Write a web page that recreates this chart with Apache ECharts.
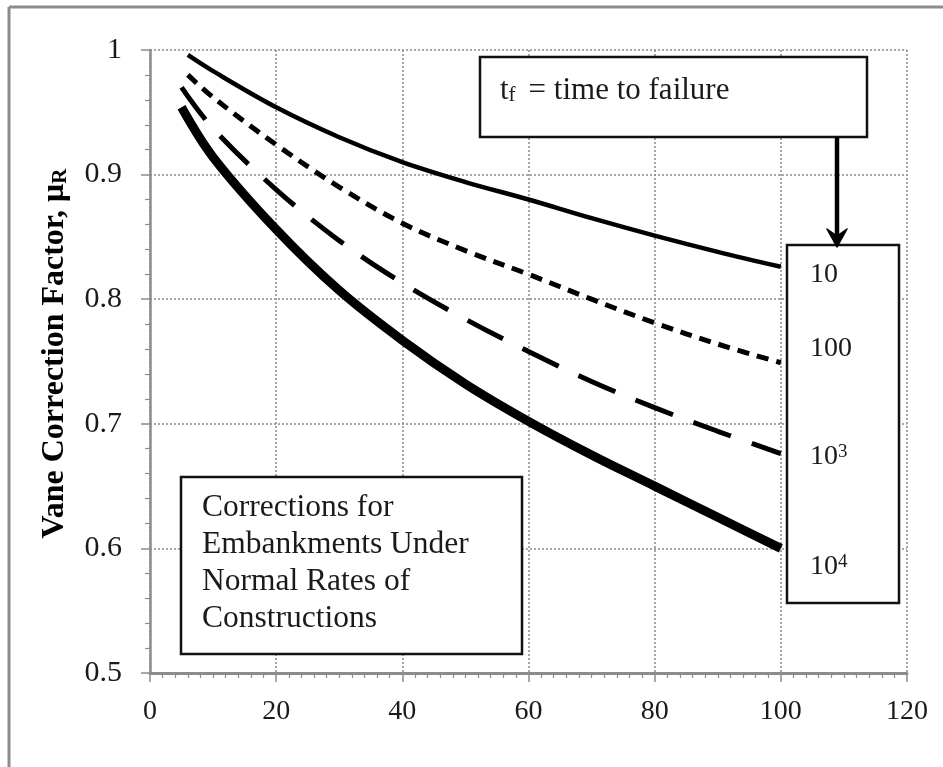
<!DOCTYPE html>
<html>
<head>
<meta charset="utf-8">
<script src="https://cdn.jsdelivr.net/npm/echarts@6/dist/echarts.min.js"></script>
<style>
  html, body { margin: 0; padding: 0; background: #fff; }
  #chart { width: 943px; height: 767px; }
</style>
</head>
<body>
<div id="chart"></div>
<script>
// Vane correction factor vs. plasticity index, one curve per time to failure t_f
const tfLabels = ['10', '100', '3', '4'];          // 10, 100, 10^3, 10^4 (exponents for the last two)
const xTf10   = [6, 10, 20, 30, 40, 50, 60, 70, 80, 90, 100];
const yTf10   = [0.996, 0.983, 0.954, 0.930, 0.910, 0.894, 0.880, 0.865, 0.851, 0.838, 0.826];
const xTf100  = [6, 10, 20, 30, 40, 50, 60, 70, 80, 90, 100];
const yTf100  = [0.980, 0.962, 0.924, 0.890, 0.861, 0.839, 0.820, 0.800, 0.781, 0.764, 0.749];
const xTf1e3  = [5, 10, 20, 30, 40, 50, 60, 70, 80, 90, 100];
const yTf1e3  = [0.970, 0.937, 0.888, 0.847, 0.813, 0.784, 0.758, 0.734, 0.713, 0.694, 0.676];
const xTf1e4  = [5, 10, 20, 30, 40, 50, 60, 70, 80, 90, 100];
const yTf1e4  = [0.954, 0.914, 0.856, 0.807, 0.767, 0.732, 0.702, 0.675, 0.650, 0.625, 0.600];
const xTicks  = [0, 20, 40, 60, 80, 100, 120];
const yTicks  = [0.5, 0.6, 0.7, 0.8, 0.9, 1];

const SERIF = "'Liberation Serif', 'Times New Roman', serif";
const zip = (xs, ys) => xs.map((x, i) => [x, ys[i]]);

const chart = echarts.init(document.getElementById('chart'), null, { renderer: 'canvas' });

function curve(name, xs, ys, width, dash) {
  return {
    name, type: 'line', data: zip(xs, ys),
    smooth: 0.35, showSymbol: false, symbol: 'none', z: 5,
    lineStyle: { color: '#000', width, type: dash || 'solid', cap: 'butt' }
  };
}

const gridLine = { show: true, lineStyle: { color: '#8a8a8a', type: [2, 2], width: 1.5 } };

chart.setOption({
  backgroundColor: '#fff',
  animation: false,
  grid: { left: 150, right: 36, top: 50, bottom: 94 },
  xAxis: {
    type: 'value', min: xTicks[0], max: xTicks[xTicks.length - 1], interval: 20,
    axisLine: { lineStyle: { color: '#8c8c8c', width: 3 } },
    axisTick: { show: true, length: 9, lineStyle: { color: '#8c8c8c', width: 1.5 } },
    minorTick: { show: true, splitNumber: 10, length: 5, lineStyle: { color: '#8c8c8c', width: 1.2 } },
    splitLine: gridLine,
    axisLabel: { fontFamily: SERIF, fontSize: 28, color: '#1a1a1a', margin: 25 }
  },
  yAxis: {
    type: 'value', min: yTicks[0], max: yTicks[yTicks.length - 1], interval: 0.1,
    name: '{a|Vane Correction Factor, μ}{s|R}',
    nameLocation: 'middle', nameRotate: 90, nameGap: 79,
    nameTextStyle: {
      padding: [0, 0, 0, 16],
      rich: {
        a: { fontFamily: SERIF, fontWeight: 'bold', fontSize: 32, color: '#000', lineHeight: 38, verticalAlign: 'bottom' },
        s: { fontFamily: SERIF, fontWeight: 'bold', fontSize: 21, color: '#000', lineHeight: 24, verticalAlign: 'bottom' }
      }
    },
    axisLine: { show: true, lineStyle: { color: '#8c8c8c', width: 2.5 } },
    axisTick: { show: true, length: 9, lineStyle: { color: '#8c8c8c', width: 1.5 } },
    minorTick: { show: true, splitNumber: 5, length: 5, lineStyle: { color: '#8c8c8c', width: 1.2 } },
    splitLine: gridLine,
    axisLabel: {
      fontFamily: SERIF, fontSize: 30, color: '#1a1a1a', margin: 28,
      formatter: v => String(parseFloat(v.toFixed(1)))
    }
  },
  series: [
    curve('t_f = 10',   xTf10,  yTf10,  4.5),
    curve('t_f = 100',  xTf100, yTf100, 5, [12, 8]),
    curve('t_f = 10^3', xTf1e3, yTf1e3, 5, [40, 22]),
    curve('t_f = 10^4', xTf1e4, yTf1e4, 9)
  ],
  graphic: [
    // page frame (left and top edges)
    { type: 'line', z: 1, shape: { x1: 9, y1: 7, x2: 9, y2: 767 }, style: { stroke: '#8c8c8c', lineWidth: 3 } },
    { type: 'line', z: 1, shape: { x1: 9, y1: 7, x2: 943, y2: 7 }, style: { stroke: '#8c8c8c', lineWidth: 3 } },

    // t_f legend box
    { type: 'rect', z: 20, shape: { x: 480, y: 57, width: 387, height: 80 },
      style: { fill: '#fff', stroke: '#111', lineWidth: 2.5 } },
    { type: 'text', z: 21, x: 500, y: 88,
      style: {
        text: '{b|t}{s|f }{b| = time to failure}', verticalAlign: 'middle',
        rich: {
          b: { fontFamily: SERIF, fontSize: 31, fill: '#1a1a1a', lineHeight: 36, verticalAlign: 'bottom' },
          s: { fontFamily: SERIF, fontSize: 21, fill: '#1a1a1a', lineHeight: 18, verticalAlign: 'bottom' }
        }
      } },

    // arrow down to the value box
    { type: 'line', z: 21, shape: { x1: 837, y1: 137, x2: 837, y2: 236 }, style: { stroke: '#000', lineWidth: 4.5 } },
    { type: 'polygon', z: 21, shape: { points: [[827, 229], [837, 247], [847, 229], [837, 236]] },
      style: { fill: '#000', stroke: '#000', lineWidth: 1.5, lineJoin: 'round' } },

    // t_f values box
    { type: 'rect', z: 20, shape: { x: 787, y: 245, width: 112, height: 358 },
      style: { fill: '#fff', stroke: '#111', lineWidth: 2.5 } },
    { type: 'text', z: 21, x: 810, y: 275,
      style: { text: tfLabels[0], font: '28px ' + SERIF, fill: '#1a1a1a', verticalAlign: 'middle' } },
    { type: 'text', z: 21, x: 810, y: 349,
      style: { text: tfLabels[1], font: '28px ' + SERIF, fill: '#1a1a1a', verticalAlign: 'middle' } },
    { type: 'text', z: 21, x: 810, y: 460,
      style: {
        text: '{b|10}{p|' + tfLabels[2] + '}', verticalAlign: 'middle',
        rich: {
          b: { fontFamily: SERIF, fontSize: 28, fill: '#1a1a1a', lineHeight: 34, verticalAlign: 'top' },
          p: { fontFamily: SERIF, fontSize: 19, fill: '#1a1a1a', lineHeight: 20, verticalAlign: 'top' }
        }
      } },
    { type: 'text', z: 21, x: 810, y: 570,
      style: {
        text: '{b|10}{p|' + tfLabels[3] + '}', verticalAlign: 'middle',
        rich: {
          b: { fontFamily: SERIF, fontSize: 28, fill: '#1a1a1a', lineHeight: 34, verticalAlign: 'top' },
          p: { fontFamily: SERIF, fontSize: 19, fill: '#1a1a1a', lineHeight: 20, verticalAlign: 'top' }
        }
      } },

    // note box
    { type: 'rect', z: 20, shape: { x: 181, y: 477, width: 341, height: 177 },
      style: { fill: '#fff', stroke: '#111', lineWidth: 2.5 } },
    { type: 'text', z: 21, x: 202, y: 489,
      style: {
        text: 'Corrections for\nEmbankments Under\nNormal Rates of\nConstructions',
        font: '31.5px ' + SERIF, fill: '#1a1a1a', lineHeight: 37, verticalAlign: 'top'
      } }
  ]
});
</script>
</body>
</html>
